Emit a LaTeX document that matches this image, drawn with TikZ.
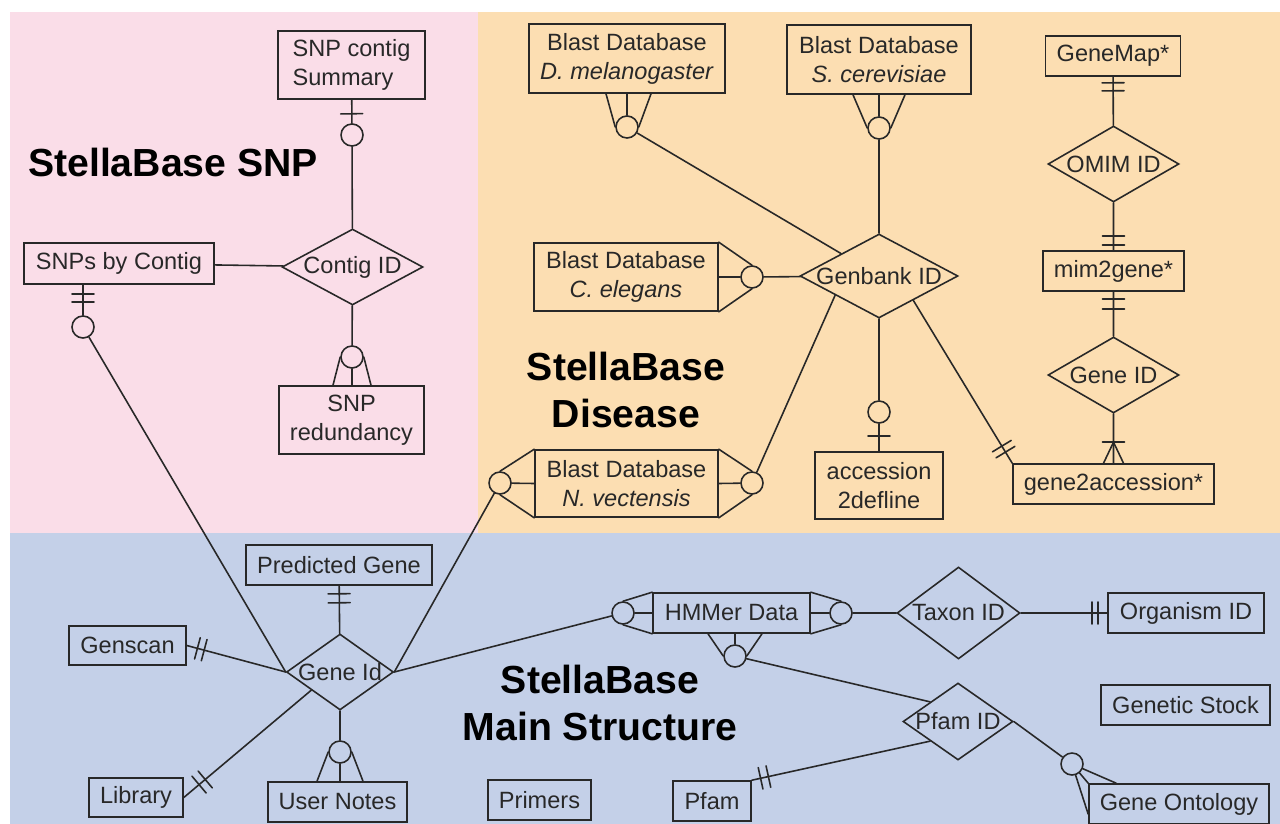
\documentclass[tikz,border=0pt]{standalone}
\usepackage{fontspec}
\setmainfont{Liberation Sans}
\usetikzlibrary{shapes.geometric,calc}
\definecolor{snpbg}{RGB}{250,221,232}
\definecolor{disbg}{RGB}{252,222,178}
\definecolor{mainbg}{RGB}{196,208,232}
\definecolor{ink}{RGB}{40,40,40}

\begin{document}
\begin{tikzpicture}[x=0.02cm,y=-0.02cm,line cap=round,line width=0.9pt,color=ink,
	font=\fontsize{13.4}{16.5}\selectfont,
	ent/.style 2 args={draw,inner sep=1pt,minimum width=#1*0.02cm,minimum height=#2*0.02cm,align=center},
	rel/.style 2 args={diamond,draw,inner sep=0pt,minimum width=#1*0.02cm,minimum height=#2*0.02cm},
	zc/.style={circle,draw,fill=#1,inner sep=0pt,minimum size=0.44cm},
	ttl/.style={font=\fontsize{22.3}{27}\selectfont\bfseries,align=center,text=black}]
		\useasboundingbox (0,0) rectangle (1280,824);
		\fill[snpbg] (10,12) rectangle (478,533);
		\fill[disbg] (478,12) rectangle (1280,533);
		\fill[mainbg] (10,533) rectangle (1280,824);

		\node[ent={147}{68},align=left] (sum) at (351.5,65) {SNP contig\\Summary};
		\node[ent={190}{41}] (sbc) at (119,263.5) {SNPs by Contig};
		\node[rel={141}{76},label={center:Contig ID}] (cid) at (352.5,267) {};
		\node[ent={145}{68}] (red) at (351.5,420) {SNP\\redundancy};
		\node[ttl] (tsnp) at (173,162) {StellaBase SNP};
		\node[zc=snpbg] (c1) at (352,135) {};
		\node[zc=snpbg] (c2) at (352,357) {};
		\node[zc=snpbg] (c3) at (83,327) {};

		\node[ent={196}{69}] (dm) at (627,58.5) {Blast Database\\\textit{D. melanogaster}};
		\node[ent={184}{69}] (sc) at (879,59.5) {Blast Database\\\textit{S. cerevisiae}};
		\node[ent={135}{40}] (gm) at (1113,56) {GeneMap*};
		\node[rel={131}{76},label={center:OMIM ID}] (om) at (1113.5,164) {};
		\node[ent={141}{40}] (m2g) at (1113.5,271) {mim2gene*};
		\node[rel={131}{76},label={center:Gene ID}] (gid2) at (1113.5,375) {};
		\node[ent={201}{40}] (g2a) at (1113.5,484) {gene2accession*};
		\node[rel={158}{84},label={center:Genbank ID}] (gb) at (879,276) {};
		\node[ent={184}{68}] (ce) at (626,277) {Blast Database\\\textit{C. elegans}};
		\node[ent={183}{67}] (nv) at (626.5,483.5) {Blast Database\\\textit{N. vectensis}};
		\node[ent={128}{67}] (acc) at (879,485.5) {accession\\2defline};
		\node[ttl] (tdis) at (626,390) {StellaBase\\Disease};
		\node[zc=disbg] (c4) at (627,127) {};
		\node[zc=disbg] (c5) at (879,128) {};
		\node[zc=disbg] (c6) at (752,277) {};
		\node[zc=disbg] (c7) at (752,483) {};
		\node[zc=disbg] (c8) at (500,483) {};
		\node[zc=disbg] (c9) at (879,412) {};

		\node[ent={186}{40}] (pg) at (339,565) {Predicted Gene};
		\node[ent={117}{39}] (gs) at (127.5,645.5) {Genscan};
		\node[ent={94}{39}] (lib) at (136,797.5) {Library};
		\node[ent={139}{40}] (un) at (337.5,802) {User Notes};
		\node[rel={107}{76},label={center:Gene Id}] (gid) at (340,672) {};
		\node[ent={157}{40}] (hm) at (731.5,613) {HMMer Data};
		\node[rel={123}{92},label={center:Taxon ID}] (tax) at (958.5,613) {};
		\node[ent={156}{40}] (org) at (1186,613) {Organism ID};
		\node[rel={110}{77},label={center:Pfam ID}] (pid) at (958,721.5) {};
		\node[ent={169}{40}] (gst) at (1185.5,705) {Genetic Stock};
		\node[ent={180}{40}] (go) at (1179,804) {Gene Ontology};
		\node[ent={78}{40}] (pf) at (712,801) {Pfam};
		\node[ent={103}{40}] (pr) at (539.5,800) {Primers};
		\node[ttl] (tmain) at (600,703) {StellaBase\\Main Structure};
		\node[zc=mainbg] (c10) at (340,752) {};
		\node[zc=mainbg] (c11) at (623,613) {};
		\node[zc=mainbg] (c12) at (841,613) {};
		\node[zc=mainbg] (c13) at (735,656) {};
		\node[zc=mainbg] (c14) at (1072,764) {};

		\coordinate (sbcs) at (c3 |- sbc.south);
		\coordinate (gbsw) at ($(gb.west)!0.45!(gb.south)$);
		\coordinate (gbse) at ($(gb.south)!0.43!(gb.east)$);
		\coordinate (g2ab) at ($(g2a.north)!0.42cm!(gid2)$);
		\coordinate (gidsw) at ($(gid.west)!0.47!(gid.south)$);
		\coordinate (pidnw) at ($(pid.west)!0.5!(pid.north)$);
		\coordinate (pidsw) at ($(pid.west)!0.5!(pid.south)$);

		\draw (sum) -- (c1) (c1) -- (cid) (sbc) -- (cid) (cid) -- (c2) (c2 |- red.north) -- (c2);
		\draw ($(c2 |- red.north)+(-19,0)$) -- (c2.west) ($(c2 |- red.north)+(19,0)$) -- (c2.east);
		\draw (sbcs) -- (c3) (c3) -- (gid.west);

		\draw (dm.south) -- (c4) ($(dm.south)+(-21,0)$) -- (c4.west) ($(dm.south)+(24,0)$) -- (c4.east) (c4) -- (gb);
		\draw (sc.south) -- (c5) ($(sc.south)+(-26,0)$) -- (c5.west) ($(sc.south)+(26,0)$) -- (c5.east) (c5) -- (gb);
		\draw (ce.east) -- (c6) (ce.north east) -- (c6.north) (ce.south east) -- (c6.south) (c6) -- (gb);
		\draw (nv.east) -- (c7) (nv.north east) -- (c7.north) (nv.south east) -- (c7.south) (c7) -- (gbsw);
		\draw (nv.west) -- (c8) (nv.north west) -- (c8.north) (nv.south west) -- (c8.south) (c8) -- (gid.east);
		\draw (gb) -- (c9) (c9) -- (acc) (gbse) -- (g2a.north west);
		\draw (gm) -- (om) (om) -- (m2g) (m2g) -- (gid2) (gid2) -- (g2a);
		\draw ($(g2a.north)+(-10,0)$) -- (g2ab) -- ($(g2a.north)+(10,0)$);

		\draw (pg) -- (gid) (gs.east) -- (gid.west) (lib.east) -- (gidsw);
		\draw (gid) -- (c10) (c10 |- un.north) -- (c10) ($(c10 |- un.north)+(-23,0)$) -- (c10.west) ($(c10 |- un.north)+(23,0)$) -- (c10.east);
		\draw (gid.east) -- (c11) (hm.west) -- (c11) (hm.north west) -- (c11.north) (hm.south west) -- (c11.south);
		\draw (hm.east) -- (c12) (hm.north east) -- (c12.north) (hm.south east) -- (c12.south) (c12) -- (tax);
		\draw (c13 |- hm.south) -- (c13) ($(c13 |- hm.south)+(-27,0)$) -- (c13.west) ($(c13 |- hm.south)+(27,0)$) -- (c13.east) (c13) -- (pidnw);
		\draw (pf.north east) -- (pidsw) (tax) -- (org) (pid.east) -- (c14);
		\draw (c14) -- (go.north west) (c14) -- ($(go.north west)+(28,0)$) (c14) -- ($(go.north west)+(0,31)$);

		\foreach \ta/\tb/\td in {sum.south/c1/0.28cm, sbcs/c3/0.18cm, sbcs/c3/0.34cm, acc.north/c9/0.30cm,
			g2a.north west/gbse/0.26cm, g2a.north west/gbse/0.40cm, gm.south/om/0.12cm, gm.south/om/0.28cm,
			m2g.north/om/0.10cm, m2g.north/om/0.28cm, m2g.south/gid2/0.14cm, m2g.south/gid2/0.34cm,
			g2a.north/gid2/0.42cm, pg.south/gid/0.16cm, pg.south/gid/0.34cm, gs.east/gid.west/0.22cm,
			gs.east/gid.west/0.36cm, lib.east/gidsw/0.40cm, lib.east/gidsw/0.56cm, pf.north east/pidsw/0.18cm,
			pf.north east/pidsw/0.34cm, org.west/tax/0.18cm, org.west/tax/0.30cm}{
			\coordinate (tk) at ($(\ta)!\td!(\tb)$);
			\draw ($(tk)!0.22cm!90:(\tb)$) -- ($(tk)!0.22cm!-90:(\tb)$);
		}
\end{tikzpicture}
\end{document}
